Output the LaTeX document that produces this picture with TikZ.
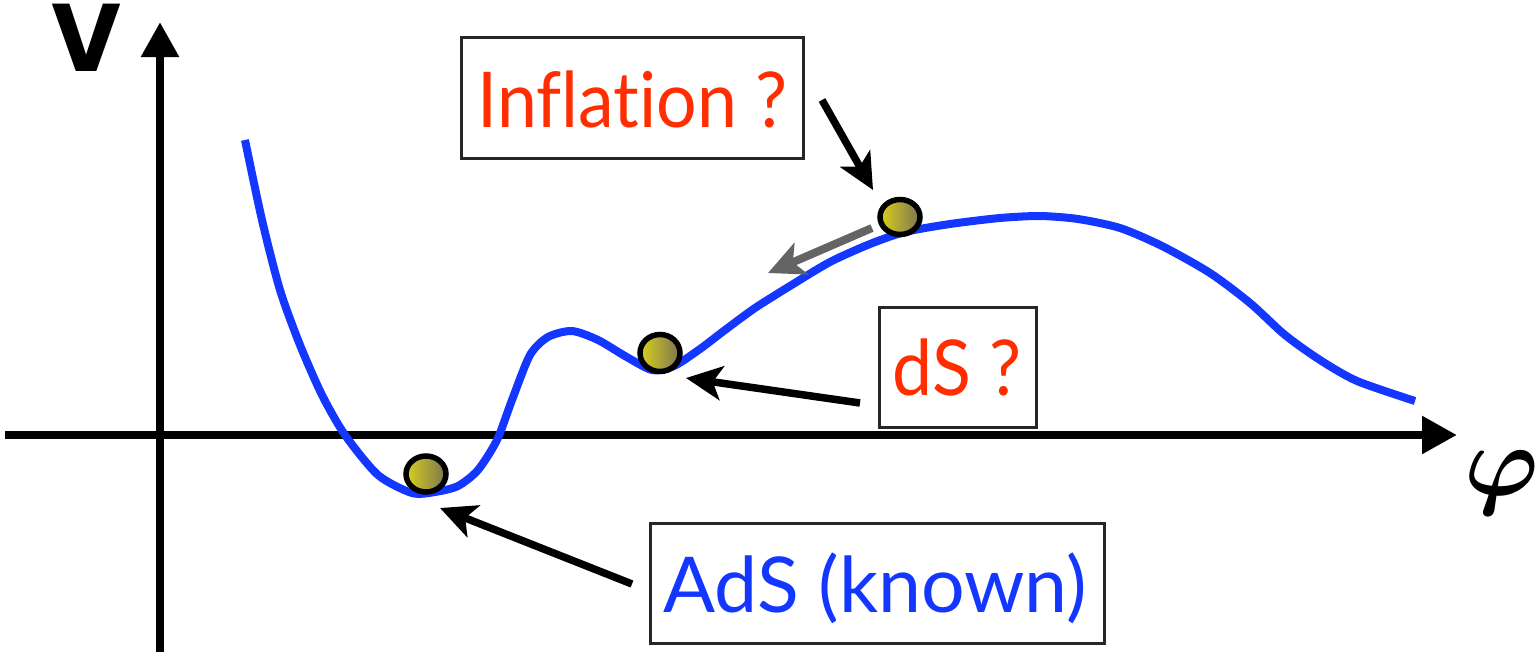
\documentclass[tikz,border=0pt]{standalone}
\usepackage{fontspec}
\usepackage{bm}
\setmainfont{Lato}[Ligatures=NoCommon]
\newfontfamily\vfont{Poppins}
\usetikzlibrary{arrows.meta,shapes.geometric}
\definecolor{curveblue}{RGB}{20,55,255}
\definecolor{labred}{RGB}{255,45,0}
\definecolor{ballyel}{RGB}{216,208,28}
\definecolor{ballgray}{RGB}{125,116,84}
\definecolor{arrgray}{RGB}{100,100,100}
\tikzset{
  axis/.style={line width=8.5pt,-{Triangle[length=35pt,width=36pt]}},
  pointer/.style={line width=7.5pt,-{Stealth[length=36pt,width=34pt,inset=9pt]}},
  labbox/.style={draw=black!85,line width=3pt,fill=white,inner sep=0pt},
  labtxt/.style={font=\fontsize{77}{80}\selectfont,anchor=base,inner sep=0pt},
  ball/.style={ellipse,draw=black,line width=5.5pt,left color=ballyel,right color=ballgray,inner sep=0pt},
  potential/.style={curveblue,line width=8pt}
}
\begin{document}
\begin{tikzpicture}[x=1pt,y=-1pt]
\useasboundingbox (0,0) rectangle (1537,656);
% axes
\coordinate (xs) at (5,435);
\coordinate (xe) at (1457,435);
\coordinate (ys) at (160,652);
\coordinate (ye) at (160,22);
\draw[axis] (xs) -- (xe);
\draw[axis] (ys) -- (ye);
\node[font=\vfont\bfseries\fontsize{96}{96}\selectfont,inner sep=0pt,anchor=base] (V) at (87,71) {\scalebox{1.0}[1]{V}};
\node[inner sep=0pt] (phi) at (1502,483) {\scalebox{10}{$\bm{\varphi}$}};
% potential
\draw[potential] plot[smooth,tension=0.45] coordinates {
(245,140) (262,220) (280,290) (300,345) (322,395) (345,435) (378,475) (412,493) (435,492) (458,486) (478,470) (497,440) (512,400) (530,355) (548,337) (572,331) (598,340) (625,356) (652,370) (674,366) (700,349) (725,330) (755,308) (790,286) (830,262) (870,244) (905,232) (950,224) (1000,218) (1040,216) (1078,219) (1120,228) (1162,246) (1210,273) (1250,303) (1285,335) (1320,360) (1357,381) (1415,401)};
% balls
\node[ball,minimum width=40pt,minimum height=35pt] (b1) at (900,217) {};
\node[ball,minimum width=40pt,minimum height=37pt] (b2) at (660,353) {};
\node[ball,minimum width=40pt,minimum height=36pt] (b3) at (426,474) {};
% boxes
\node[labbox,minimum width=342pt,minimum height=121pt] (infl) at (632,97.5) {};
\node[labtxt,text=labred] (inflt) at (632.5,127) {\scalebox{0.93}[1]{Inflation ?}};
\node[labbox,minimum width=157pt,minimum height=120pt] (ds) at (957.5,367) {};
\node[labtxt,text=labred] (dst) at (957,395) {\scalebox{0.93}[1]{dS ?}};
\node[labbox,minimum width=454pt,minimum height=120pt] (ads) at (877,583) {};
\node[labtxt,text=curveblue] (adst) at (875,612) {AdS (known)};
% pointers
\coordinate (p1s) at (822,100);
\coordinate (p1e) at (873,190);
\draw[pointer] (p1s) -- (p1e);
\coordinate (p2s) at (860,403);
\coordinate (p2e) at (686,378);
\draw[pointer] (p2s) -- (p2e);
\coordinate (p3s) at (632,584);
\coordinate (p3e) at (440,508);
\draw[pointer] (p3s) -- (p3e);
\coordinate (gs) at (872,228);
\coordinate (ge) at (768,273);
\draw[pointer,arrgray,line width=8pt] (gs) -- (ge);
\end{tikzpicture}
\end{document}
